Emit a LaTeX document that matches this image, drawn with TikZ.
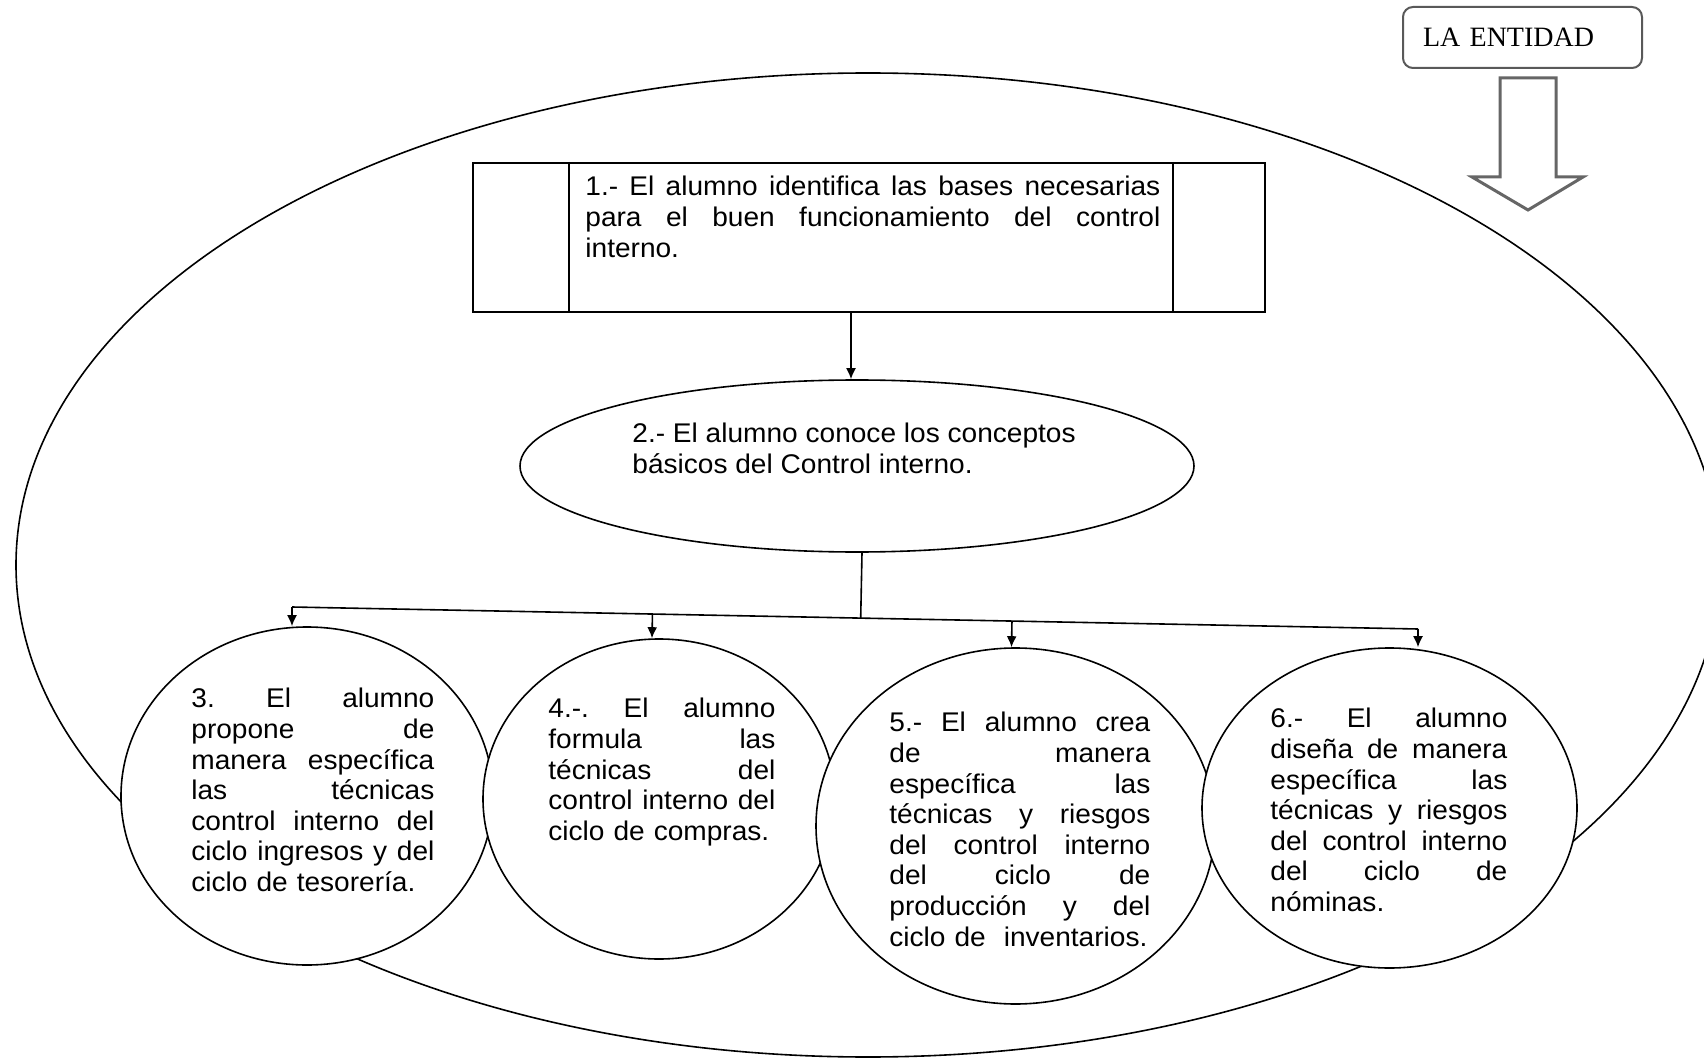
\documentclass[tikz,border=0pt]{standalone}
\usepackage{fontspec}
\setmainfont{Liberation Sans}[FakeStretch=1.04]
\newfontfamily\timesfont{Liberation Serif}
\usetikzlibrary{shapes.geometric,arrows.meta,calc}

\newcommand{\jline}[1]{{\frenchspacing\spaceskip=0pt\xspaceskip=0pt\makebox[\linewidth][s]{#1}}\\}

\tikzset{
  forma/.style={draw, line width=0.8pt},
  ciclo/.style={forma, ellipse, fill=white, inner sep=0pt},
  texto/.style={anchor=north west, inner sep=0pt, align=left,
    font=\fontsize{13.5}{15.3}\selectfont},
  flecha/.style={-{Latex[length=5.5pt,width=5pt]}, line width=0.8pt},
}

\begin{document}
\begin{tikzpicture}[x=0.5pt,y=-0.5pt]
\useasboundingbox (0,0) rectangle (1704,1059);
% la entidad
\node[forma, ellipse, minimum width=852pt, minimum height=492pt] (entidad) at (868,565) {};
\node[draw=black!65, line width=1pt, rounded corners=5pt, minimum height=30.5pt,
  text width=99.5pt, inner xsep=10pt, align=left,
  font=\timesfont\fontsize{14}{16}\selectfont] (titulo) at (1522.5,37.5) {LA ENTIDAD};
\draw[draw=black!60, line width=1.5pt] (1500,78) -- (1556,78) -- (1556,177) -- (1583,177)
  -- (1528,210) -- (1472,177) -- (1500,177) -- cycle;

% objetivos
\node[forma, line width=1pt, minimum width=396pt, minimum height=74.5pt] (box1) at (869,237.5) {};
\draw[line width=1pt] ([xshift=48.5pt]box1.north west) -- ([xshift=48.5pt]box1.south west);
\draw[line width=1pt] ([xshift=-46.5pt]box1.north east) -- ([xshift=-46.5pt]box1.south east);
\node[forma, ellipse, minimum width=337pt, minimum height=86pt] (ell2) at (857,466) {};
\node[ciclo, minimum width=186pt, minimum height=169pt] (c3) at (307,796) {};
\node[ciclo, minimum width=176pt, minimum height=160pt] (c4) at (659,799) {};
\node[ciclo, minimum width=199.5pt, minimum height=178pt] (c5) at (1015.5,826) {};
\node[ciclo, minimum width=187.5pt, minimum height=160pt] (c6) at (1389.5,808) {};

\node[texto, text width=287.5pt] (t1) at (585,176) {%
  \jline{1.- El alumno identifica las bases necesarias}
  \jline{para el buen funcionamiento del control}
  interno.};
\node[texto] (t2) at (632,423) {2.- El alumno conoce los conceptos\\básicos del Control interno.};
\node[texto, text width=121.5pt] (t3) at (191,688) {%
  \jline{3. El alumno}
  \jline{propone de}
  \jline{manera específica}
  \jline{las técnicas}
  \jline{control interno del}
  \jline{ciclo ingresos y del}
  ciclo de tesorería.};
\node[texto, text width=113.5pt] (t4) at (548,698) {%
  \jline{4.-. El alumno}
  \jline{formula las}
  \jline{técnicas del}
  \jline{control interno del}
  ciclo de compras.};
\node[texto, text width=130.5pt] (t5) at (889,712) {%
  \jline{5.- El alumno crea}
  \jline{de manera}
  \jline{específica las}
  \jline{técnicas y riesgos}
  \jline{del control interno}
  \jline{del ciclo de}
  \jline{producción y del}
  ciclo de~ inventarios.};
\node[texto, text width=118.5pt] (t6) at (1270,708) {%
  \jline{6.- El alumno}
  \jline{diseña de manera}
  \jline{específica las}
  \jline{técnicas y riesgos}
  \jline{del control interno}
  \jline{del ciclo de}
  nóminas.};

% conexiones
\coordinate (busL) at (292,607);
\coordinate (busR) at (1418,629);
\draw[flecha] ([xshift=-9pt]box1.south) -- ([xshift=-9pt]box1.south |- ell2.north);
\draw[line width=0.8pt] ([xshift=2.5pt]ell2.south) -- ($(busL)!([xshift=2.5pt]ell2.south)!(busR)$);
\draw[line width=0.8pt] (busL) -- (busR);
\draw[flecha] (busL) -- (busL |- c3.north);
\draw[flecha] ($(busL)!([xshift=-3.5pt]c4.north)!(busR)$) -- ([xshift=-3.5pt]c4.north);
\draw[flecha] ($(busL)!([xshift=-2pt]c5.north)!(busR)$) -- ([xshift=-2pt]c5.north);
\draw[flecha] (busR) -- (busR |- c6.north);
\end{tikzpicture}
\end{document}
